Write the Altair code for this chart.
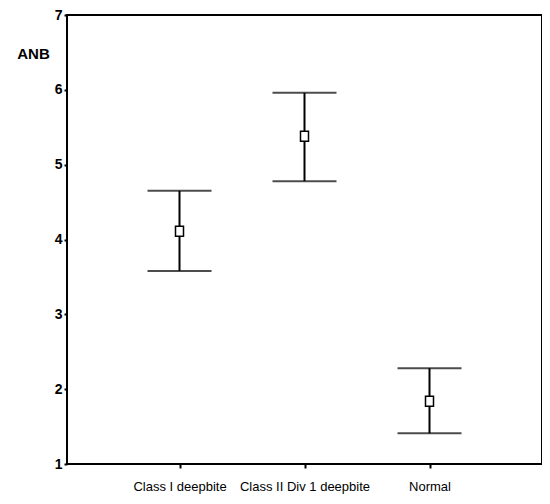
import altair as alt
import pandas as pd

groups = ["Class I deepbite", "Class II Div 1 deepbite", "Normal"]
means = [4.11, 5.38, 1.84]
lower = [3.58, 4.78, 1.41]
upper = [4.65, 5.96, 2.28]

df = pd.DataFrame({"group": groups, "mean": means, "lower": lower, "upper": upper})

FONT = "Liberation Sans"

x_enc = alt.X(
    "group:N",
    sort=groups,
    scale=alt.Scale(type="point", padding=0.9),
    axis=alt.Axis(
        title=None, labelAngle=0, domain=False, tickSize=4, tickWidth=2,
        tickColor="black", labelPadding=12, labelFont=FONT, labelFontSize=13,
        labelColor="black",
    ),
)
y_scale = alt.Scale(domain=[1, 7], nice=False, zero=False)
y_axis = alt.Axis(
    title="ANB", titleAngle=0, titleX=-34, titleY=38, titleAlign="center",
    titleBaseline="middle", titleFont=FONT, titleFontSize=15, titleFontWeight="bold",
    titleColor="black", values=[1, 2, 3, 4, 5, 6, 7], format="d", domain=False,
    grid=False, tickSize=3, tickWidth=2, tickColor="black", labelPadding=2,
    labelFont=FONT, labelFontSize=14, labelFontWeight="bold", labelColor="black",
)

base = alt.Chart(df)

rules = base.mark_rule(color="black", strokeWidth=2).encode(
    x=x_enc,
    y=alt.Y("lower:Q", scale=y_scale, axis=y_axis),
    y2="upper:Q",
)
caps_low = base.mark_tick(color="black", size=64, thickness=2).encode(
    x=x_enc, y=alt.Y("lower:Q", scale=y_scale)
)
caps_high = base.mark_tick(color="black", size=64, thickness=2).encode(
    x=x_enc, y=alt.Y("upper:Q", scale=y_scale)
)
pts = base.mark_point(
    shape="M-0.8,-1L0.8,-1L0.8,1L-0.8,1Z", size=100, filled=True,
    fill="white", stroke="black", strokeWidth=1.5, opacity=1,
).encode(x=x_enc, y=alt.Y("mean:Q", scale=y_scale))

chart = (
    alt.layer(rules, caps_low, caps_high, pts)
    .properties(
        width=475, height=449,
        autosize=alt.AutoSizeParams(type="none"),
        padding={"left": 59, "top": 7, "right": 0, "bottom": 30},
        background="white",
    )
    .configure_view(stroke="black", strokeWidth=2)
)

chart.save("out.html", embed_options={"renderer": "svg", "actions": False})
